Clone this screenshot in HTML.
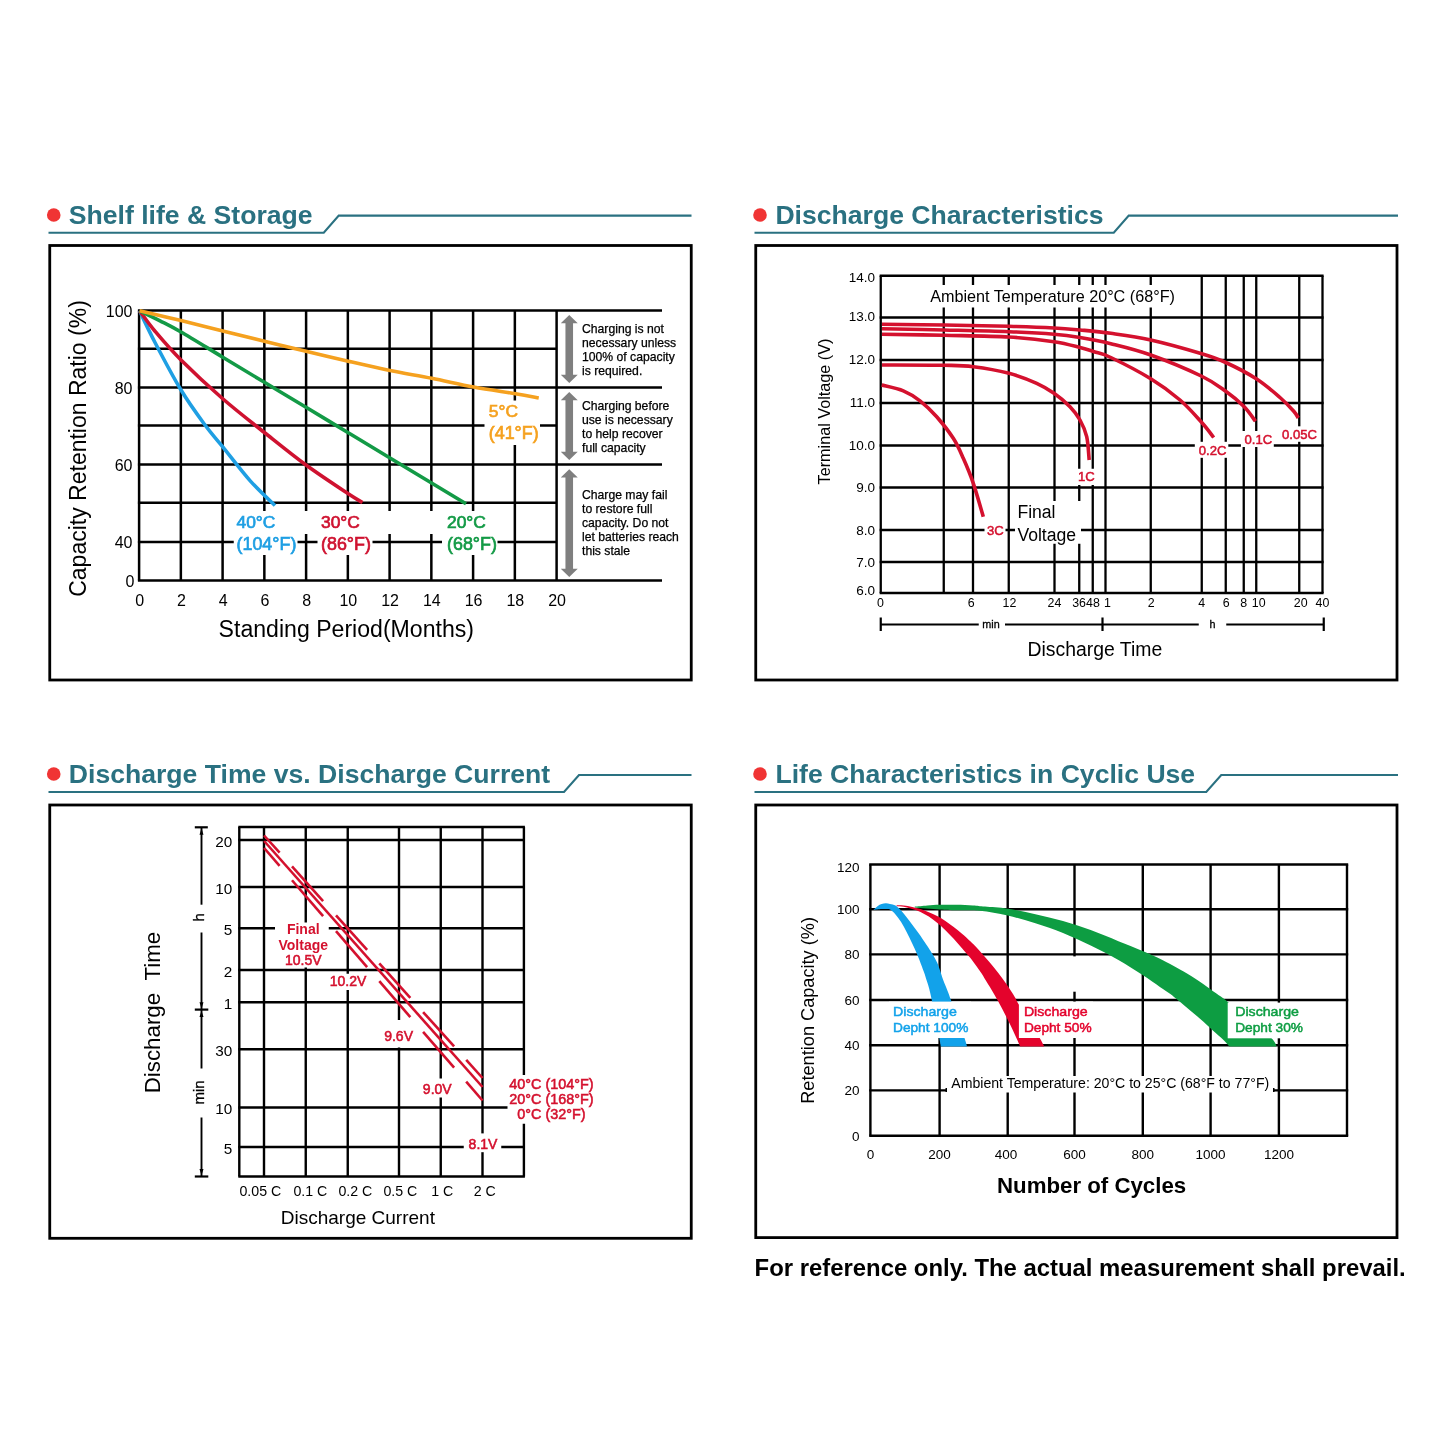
<!DOCTYPE html>
<html lang="en"><head><meta charset="utf-8"><title>Battery characteristics</title>
<style>html,body{margin:0;padding:0;background:#fff}svg{display:block}text{font-family:"Liberation Sans",sans-serif}</style>
</head><body>
<svg width="1445" height="1445" viewBox="0 0 1445 1445">
<rect width="1445" height="1445" fill="#fff"/>
<circle cx="53.75" cy="215" r="6.8" fill="#f03434"/>
<text x="68.80" y="223.75" font-size="26.6" text-anchor="start" font-weight="bold" fill="#2a7181" >Shelf life &amp; Storage</text>
<polyline points="48.5,232.8 323.75,232.8 338.75,215.6 691.5,215.6" fill="none" stroke="#2a7181" stroke-width="2.1"/>
<circle cx="760" cy="215" r="6.8" fill="#f03434"/>
<text x="775.40" y="223.75" font-size="26.6" text-anchor="start" font-weight="bold" fill="#2a7181" >Discharge Characteristics</text>
<polyline points="754.5,232.8 1113.75,232.8 1128.75,215.6 1398,215.6" fill="none" stroke="#2a7181" stroke-width="2.1"/>
<circle cx="53.75" cy="774" r="6.8" fill="#f03434"/>
<text x="68.80" y="782.75" font-size="26.6" text-anchor="start" font-weight="bold" fill="#2a7181" >Discharge Time vs. Discharge Current</text>
<polyline points="48.5,792 564,792 579,775 691.5,775" fill="none" stroke="#2a7181" stroke-width="2.1"/>
<circle cx="760" cy="774" r="6.8" fill="#f03434"/>
<text x="775.40" y="782.75" font-size="26.6" text-anchor="start" font-weight="bold" fill="#2a7181" >Life Characteristics in Cyclic Use</text>
<polyline points="754.5,792 1206.25,792 1221.25,775 1398,775" fill="none" stroke="#2a7181" stroke-width="2.1"/>
<rect x="49.75" y="245.5" width="641.5" height="434.5" fill="none" stroke="#000" stroke-width="2.8"/>
<rect x="755.75" y="245.5" width="641.25" height="434.5" fill="none" stroke="#000" stroke-width="2.8"/>
<rect x="49.75" y="805" width="641.5" height="433.29999999999995" fill="none" stroke="#000" stroke-width="2.8"/>
<rect x="755.75" y="805" width="641.25" height="432.5999999999999" fill="none" stroke="#000" stroke-width="2.8"/>
<g id="c1">
<line x1="137.90" y1="310.50" x2="662.00" y2="310.50" stroke="#000" stroke-width="2.5" />
<line x1="137.90" y1="348.70" x2="556.60" y2="348.70" stroke="#000" stroke-width="2.5" />
<line x1="137.90" y1="387.50" x2="662.00" y2="387.50" stroke="#000" stroke-width="2.5" />
<line x1="137.90" y1="425.60" x2="556.60" y2="425.60" stroke="#000" stroke-width="2.5" />
<line x1="137.90" y1="464.60" x2="662.00" y2="464.60" stroke="#000" stroke-width="2.5" />
<line x1="137.90" y1="502.80" x2="556.60" y2="502.80" stroke="#000" stroke-width="2.5" />
<line x1="137.90" y1="542.00" x2="556.60" y2="542.00" stroke="#000" stroke-width="2.5" />
<line x1="137.90" y1="580.50" x2="662.00" y2="580.50" stroke="#000" stroke-width="2.5" />
<line x1="139.10" y1="310.50" x2="139.10" y2="580.50" stroke="#000" stroke-width="2.5" />
<line x1="180.85" y1="310.50" x2="180.85" y2="580.50" stroke="#000" stroke-width="2.5" />
<line x1="222.60" y1="310.50" x2="222.60" y2="580.50" stroke="#000" stroke-width="2.5" />
<line x1="264.35" y1="310.50" x2="264.35" y2="580.50" stroke="#000" stroke-width="2.5" />
<line x1="306.10" y1="310.50" x2="306.10" y2="580.50" stroke="#000" stroke-width="2.5" />
<line x1="347.85" y1="310.50" x2="347.85" y2="580.50" stroke="#000" stroke-width="2.5" />
<line x1="389.60" y1="310.50" x2="389.60" y2="580.50" stroke="#000" stroke-width="2.5" />
<line x1="431.35" y1="310.50" x2="431.35" y2="580.50" stroke="#000" stroke-width="2.5" />
<line x1="473.10" y1="310.50" x2="473.10" y2="580.50" stroke="#000" stroke-width="2.5" />
<line x1="514.85" y1="310.50" x2="514.85" y2="580.50" stroke="#000" stroke-width="2.5" />
<line x1="556.60" y1="310.50" x2="556.60" y2="580.50" stroke="#000" stroke-width="2.5" />
<rect x="233.00" y="511.00" width="267.00" height="23.00" fill="#fff"/>
<rect x="233.75" y="533.00" width="63.75" height="22.00" fill="#fff"/>
<rect x="317.50" y="533.00" width="55.00" height="22.00" fill="#fff"/>
<rect x="442.00" y="533.00" width="55.50" height="22.00" fill="#fff"/>
<rect x="484.50" y="400.50" width="55.50" height="44.50" fill="#fff"/>
<path d="M139.60,310.80 C142.17,316.08 148.10,329.30 155.00,342.50 C161.90,355.70 172.67,376.25 181.00,390.00 C189.33,403.75 198.04,415.52 205.00,425.00 C211.96,434.48 215.25,437.63 222.75,446.90 C230.25,456.17 241.29,470.83 250.00,480.60 C258.71,490.37 270.83,501.35 275.00,505.50" stroke="#1f9fe3" stroke-width="3.6" fill="none" stroke-linecap="butt"/>
<path d="M139.60,310.80 C142.17,314.21 148.10,323.05 155.00,331.25 C161.90,339.45 169.71,348.75 181.00,360.00 C192.29,371.25 208.85,386.67 222.75,398.75 C236.65,410.83 250.52,421.46 264.40,432.50 C278.27,443.54 292.02,454.79 306.00,465.00 C319.98,475.21 338.83,487.50 348.25,493.75 C357.67,500.00 360.12,501.04 362.50,502.50" stroke="#cf1230" stroke-width="3.6" fill="none" stroke-linecap="butt"/>
<path d="M139.60,310.80 C143.00,312.47 153.10,317.27 160.00,320.80 C166.90,324.33 170.54,325.93 181.00,332.00 C191.46,338.07 208.85,348.82 222.75,357.20 C236.65,365.58 250.52,373.95 264.40,382.30 C278.27,390.65 292.02,398.88 306.00,407.30 C319.98,415.72 334.25,424.35 348.25,432.80 C362.25,441.25 370.38,446.18 390.00,458.00 C409.62,469.82 453.33,496.12 466.00,503.75" stroke="#139a46" stroke-width="3.6" fill="none" stroke-linecap="butt"/>
<path d="M139.60,310.80 C146.50,312.43 167.14,317.23 181.00,320.60 C194.86,323.97 208.85,327.56 222.75,331.00 C236.65,334.44 250.52,337.88 264.40,341.25 C278.27,344.62 292.02,347.92 306.00,351.25 C319.98,354.58 334.25,358.04 348.25,361.25 C362.25,364.46 376.08,367.67 390.00,370.50 C403.92,373.33 417.79,375.50 431.75,378.25 C445.71,381.00 459.79,384.42 473.75,387.00 C487.71,389.58 504.67,391.92 515.50,393.75 C526.33,395.58 534.88,397.29 538.75,398.00" stroke="#f5a11f" stroke-width="3.6" fill="none" stroke-linecap="butt"/>
<text x="236.50" y="527.50" font-size="17.4" text-anchor="start" fill="#1f9fe3" stroke="#1f9fe3" stroke-width="0.7">40°C</text>
<text x="236.50" y="549.50" font-size="17.9" text-anchor="start" fill="#1f9fe3" stroke="#1f9fe3" stroke-width="0.7">(104°F)</text>
<text x="321.00" y="527.50" font-size="17.4" text-anchor="start" fill="#cf1230" stroke="#cf1230" stroke-width="0.7">30°C</text>
<text x="321.00" y="549.50" font-size="17.9" text-anchor="start" fill="#cf1230" stroke="#cf1230" stroke-width="0.7">(86°F)</text>
<text x="447.00" y="527.50" font-size="17.4" text-anchor="start" fill="#139a46" stroke="#139a46" stroke-width="0.7">20°C</text>
<text x="447.00" y="549.50" font-size="17.9" text-anchor="start" fill="#139a46" stroke="#139a46" stroke-width="0.7">(68°F)</text>
<text x="488.75" y="417.00" font-size="17.4" text-anchor="start" fill="#f5a11f" stroke="#f5a11f" stroke-width="0.7">5°C</text>
<text x="488.75" y="438.75" font-size="17.9" text-anchor="start" fill="#f5a11f" stroke="#f5a11f" stroke-width="0.7">(41°F)</text>
<text x="132.50" y="316.80" font-size="16" text-anchor="end" fill="#000" >100</text>
<text x="132.50" y="393.80" font-size="16" text-anchor="end" fill="#000" >80</text>
<text x="132.50" y="470.90" font-size="16" text-anchor="end" fill="#000" >60</text>
<text x="132.50" y="548.30" font-size="16" text-anchor="end" fill="#000" >40</text>
<text x="134.50" y="586.80" font-size="16" text-anchor="end" fill="#000" >0</text>
<text x="139.60" y="606.00" font-size="16" text-anchor="middle" fill="#000" >0</text>
<text x="181.35" y="606.00" font-size="16" text-anchor="middle" fill="#000" >2</text>
<text x="223.10" y="606.00" font-size="16" text-anchor="middle" fill="#000" >4</text>
<text x="264.85" y="606.00" font-size="16" text-anchor="middle" fill="#000" >6</text>
<text x="306.60" y="606.00" font-size="16" text-anchor="middle" fill="#000" >8</text>
<text x="348.35" y="606.00" font-size="16" text-anchor="middle" fill="#000" >10</text>
<text x="390.10" y="606.00" font-size="16" text-anchor="middle" fill="#000" >12</text>
<text x="431.85" y="606.00" font-size="16" text-anchor="middle" fill="#000" >14</text>
<text x="473.60" y="606.00" font-size="16" text-anchor="middle" fill="#000" >16</text>
<text x="515.35" y="606.00" font-size="16" text-anchor="middle" fill="#000" >18</text>
<text x="557.10" y="606.00" font-size="16" text-anchor="middle" fill="#000" >20</text>
<text x="218.60" y="637.00" font-size="23.1" text-anchor="start" fill="#000" >Standing Period(Months)</text>
<text transform="translate(85.75,448.50) rotate(-90)" font-size="23" text-anchor="middle" fill="#000" >Capacity Retention Ratio (%)</text>
<polygon points="569.25,315.00 577.75,323.20 573.05,323.20 573.05,374.80 577.75,374.80 569.25,383.00 560.75,374.80 565.45,374.80 565.45,323.20 560.75,323.20" fill="#7f7f7f"/>
<polygon points="569.25,392.00 577.75,400.20 573.05,400.20 573.05,451.80 577.75,451.80 569.25,460.00 560.75,451.80 565.45,451.80 565.45,400.20 560.75,400.20" fill="#7f7f7f"/>
<polygon points="569.25,469.25 577.75,477.45 573.05,477.45 573.05,568.80 577.75,568.80 569.25,577.00 560.75,568.80 565.45,568.80 565.45,477.45 560.75,477.45" fill="#7f7f7f"/>
<text x="582.00" y="333.00" font-size="12.2" text-anchor="start" fill="#000" stroke="#000" stroke-width="0.25">Charging is not</text>
<text x="582.00" y="347.00" font-size="12.2" text-anchor="start" fill="#000" stroke="#000" stroke-width="0.25">necessary unless</text>
<text x="582.00" y="361.25" font-size="12.2" text-anchor="start" fill="#000" stroke="#000" stroke-width="0.25">100% of capacity</text>
<text x="582.00" y="375.00" font-size="12.2" text-anchor="start" fill="#000" stroke="#000" stroke-width="0.25">is required.</text>
<text x="582.00" y="409.50" font-size="12.2" text-anchor="start" fill="#000" stroke="#000" stroke-width="0.25">Charging before</text>
<text x="582.00" y="423.75" font-size="12.2" text-anchor="start" fill="#000" stroke="#000" stroke-width="0.25">use is necessary</text>
<text x="582.00" y="438.00" font-size="12.2" text-anchor="start" fill="#000" stroke="#000" stroke-width="0.25">to help recover</text>
<text x="582.00" y="452.00" font-size="12.2" text-anchor="start" fill="#000" stroke="#000" stroke-width="0.25">full capacity</text>
<text x="582.00" y="498.75" font-size="12.2" text-anchor="start" fill="#000" stroke="#000" stroke-width="0.25">Charge may fail</text>
<text x="582.00" y="513.00" font-size="12.2" text-anchor="start" fill="#000" stroke="#000" stroke-width="0.25">to restore full</text>
<text x="582.00" y="527.00" font-size="12.2" text-anchor="start" fill="#000" stroke="#000" stroke-width="0.25">capacity. Do not</text>
<text x="582.00" y="541.25" font-size="12.2" text-anchor="start" fill="#000" stroke="#000" stroke-width="0.25">let batteries reach</text>
<text x="582.00" y="555.00" font-size="12.2" text-anchor="start" fill="#000" stroke="#000" stroke-width="0.25">this stale</text>
</g>
<g id="c2">
<line x1="879.65" y1="275.75" x2="1323.60" y2="275.75" stroke="#000" stroke-width="2.3" />
<line x1="879.65" y1="317.50" x2="1323.60" y2="317.50" stroke="#000" stroke-width="2.3" />
<line x1="879.65" y1="360.00" x2="1323.60" y2="360.00" stroke="#000" stroke-width="2.3" />
<line x1="879.65" y1="403.00" x2="1323.60" y2="403.00" stroke="#000" stroke-width="2.3" />
<line x1="879.65" y1="445.50" x2="1323.60" y2="445.50" stroke="#000" stroke-width="2.3" />
<line x1="879.65" y1="487.50" x2="1323.60" y2="487.50" stroke="#000" stroke-width="2.3" />
<line x1="879.65" y1="530.00" x2="1323.60" y2="530.00" stroke="#000" stroke-width="2.3" />
<line x1="879.65" y1="562.00" x2="1323.60" y2="562.00" stroke="#000" stroke-width="2.3" />
<line x1="879.65" y1="593.00" x2="1323.60" y2="593.00" stroke="#000" stroke-width="2.3" />
<line x1="880.75" y1="275.75" x2="880.75" y2="593.00" stroke="#000" stroke-width="2.3" />
<line x1="943.75" y1="275.75" x2="943.75" y2="593.00" stroke="#000" stroke-width="2.3" />
<line x1="973.00" y1="275.75" x2="973.00" y2="593.00" stroke="#000" stroke-width="2.3" />
<line x1="1008.75" y1="275.75" x2="1008.75" y2="593.00" stroke="#000" stroke-width="2.3" />
<line x1="1054.50" y1="275.75" x2="1054.50" y2="593.00" stroke="#000" stroke-width="2.3" />
<line x1="1079.25" y1="275.75" x2="1079.25" y2="593.00" stroke="#000" stroke-width="2.3" />
<line x1="1092.75" y1="275.75" x2="1092.75" y2="593.00" stroke="#000" stroke-width="2.3" />
<line x1="1105.50" y1="275.75" x2="1105.50" y2="593.00" stroke="#000" stroke-width="2.3" />
<line x1="1150.75" y1="275.75" x2="1150.75" y2="593.00" stroke="#000" stroke-width="2.3" />
<line x1="1201.75" y1="275.75" x2="1201.75" y2="593.00" stroke="#000" stroke-width="2.3" />
<line x1="1225.75" y1="275.75" x2="1225.75" y2="593.00" stroke="#000" stroke-width="2.3" />
<line x1="1243.75" y1="275.75" x2="1243.75" y2="593.00" stroke="#000" stroke-width="2.3" />
<line x1="1256.25" y1="275.75" x2="1256.25" y2="593.00" stroke="#000" stroke-width="2.3" />
<line x1="1299.25" y1="275.75" x2="1299.25" y2="593.00" stroke="#000" stroke-width="2.3" />
<line x1="1322.50" y1="275.75" x2="1322.50" y2="593.00" stroke="#000" stroke-width="2.3" />
<rect x="926.00" y="285.00" width="255.00" height="22.50" fill="#fff"/>
<rect x="1194.80" y="441.80" width="33.50" height="16.00" fill="#fff"/>
<rect x="1240.90" y="431.00" width="32.90" height="16.00" fill="#fff"/>
<rect x="1280.00" y="426.30" width="38.00" height="15.50" fill="#fff"/>
<rect x="1074.00" y="468.75" width="23.00" height="16.25" fill="#fff"/>
<rect x="984.50" y="522.00" width="21.00" height="16.00" fill="#fff"/>
<rect x="1015.00" y="501.00" width="66.00" height="42.75" fill="#fff"/>
<path d="M882.00,324.20 C892.33,324.33 922.83,324.65 944.00,325.00 C965.17,325.35 990.67,325.80 1009.00,326.30 C1027.33,326.80 1042.17,327.38 1054.00,328.00 C1065.83,328.62 1070.53,329.12 1080.00,330.00 C1089.47,330.88 1099.01,331.63 1110.80,333.30 C1122.59,334.97 1135.59,336.59 1150.75,340.00 C1165.91,343.41 1189.25,350.00 1201.75,353.75 C1214.25,357.50 1216.67,358.33 1225.75,362.50 C1234.83,366.67 1247.21,372.92 1256.25,378.75 C1265.29,384.58 1273.75,392.08 1280.00,397.50 C1286.25,402.92 1290.71,407.83 1293.75,411.25 C1296.79,414.67 1297.50,416.88 1298.25,418.00" stroke="#d4112e" stroke-width="3.6" fill="none" stroke-linecap="butt"/>
<path d="M882.00,328.70 C892.33,328.92 922.83,329.50 944.00,330.00 C965.17,330.50 990.67,331.00 1009.00,331.70 C1027.33,332.40 1042.17,333.23 1054.00,334.20 C1065.83,335.17 1070.53,335.92 1080.00,337.50 C1089.47,339.08 1099.01,340.78 1110.80,343.70 C1122.59,346.62 1135.59,349.57 1150.75,355.00 C1165.91,360.43 1189.25,370.21 1201.75,376.25 C1214.25,382.29 1218.75,386.25 1225.75,391.25 C1232.75,396.25 1238.79,401.25 1243.75,406.25 C1248.71,411.25 1253.54,418.75 1255.50,421.25" stroke="#d4112e" stroke-width="3.6" fill="none" stroke-linecap="butt"/>
<path d="M882.00,334.20 C892.33,334.38 922.83,334.83 944.00,335.30 C965.17,335.77 990.67,335.93 1009.00,337.00 C1027.33,338.07 1042.17,339.95 1054.00,341.70 C1065.83,343.45 1073.33,345.83 1080.00,347.50 C1086.67,349.17 1088.87,350.03 1094.00,351.70 C1099.13,353.37 1101.34,352.99 1110.80,357.50 C1120.26,362.01 1139.22,371.67 1150.75,378.75 C1162.28,385.83 1171.50,392.71 1180.00,400.00 C1188.50,407.29 1196.12,416.25 1201.75,422.50 C1207.38,428.75 1211.75,435.00 1213.75,437.50" stroke="#d4112e" stroke-width="3.6" fill="none" stroke-linecap="butt"/>
<path d="M882.00,365.00 C892.33,365.05 928.78,365.02 944.00,365.30 C959.22,365.58 962.47,365.37 973.30,366.70 C984.13,368.03 998.43,370.53 1009.00,373.30 C1019.57,376.07 1029.20,379.97 1036.70,383.30 C1044.20,386.63 1048.45,389.40 1054.00,393.30 C1059.55,397.20 1065.67,402.25 1070.00,406.70 C1074.33,411.15 1077.22,415.00 1080.00,420.00 C1082.78,425.00 1085.17,430.03 1086.70,436.70 C1088.23,443.37 1088.78,456.12 1089.20,460.00" stroke="#d4112e" stroke-width="3.6" fill="none" stroke-linecap="butt"/>
<path d="M881.70,385.00 C885.30,385.97 896.92,388.17 903.30,390.80 C909.68,393.43 914.43,396.48 920.00,400.80 C925.57,405.12 931.15,410.45 936.70,416.70 C942.25,422.95 948.87,431.37 953.30,438.30 C957.73,445.23 959.97,450.80 963.30,458.30 C966.63,465.80 969.97,473.57 973.30,483.30 C976.63,493.03 981.63,511.13 983.30,516.70" stroke="#d4112e" stroke-width="3.6" fill="none" stroke-linecap="butt"/>
<text x="1282.00" y="439.25" font-size="13.1" text-anchor="start" fill="#d4112e" stroke="#d4112e" stroke-width="0.5">0.05C</text>
<text x="1244.50" y="443.75" font-size="13.1" text-anchor="start" fill="#d4112e" stroke="#d4112e" stroke-width="0.5">0.1C</text>
<text x="1198.75" y="454.50" font-size="13.1" text-anchor="start" fill="#d4112e" stroke="#d4112e" stroke-width="0.5">0.2C</text>
<text x="1078.00" y="481.25" font-size="13.1" text-anchor="start" fill="#d4112e" stroke="#d4112e" stroke-width="0.5">1C</text>
<text x="987.00" y="535.00" font-size="13.1" text-anchor="start" fill="#d4112e" stroke="#d4112e" stroke-width="0.5">3C</text>
<text x="1017.40" y="517.80" font-size="17.6" text-anchor="start" fill="#000" >Final</text>
<text x="1017.40" y="540.60" font-size="17.6" text-anchor="start" fill="#000" >Voltage</text>
<text x="930.20" y="302.40" font-size="16.2" text-anchor="start" fill="#000" >Ambient Temperature 20°C (68°F)</text>
<text x="875.00" y="281.65" font-size="13.5" text-anchor="end" fill="#000" >14.0</text>
<text x="875.00" y="320.90" font-size="13.5" text-anchor="end" fill="#000" >13.0</text>
<text x="875.00" y="363.70" font-size="13.5" text-anchor="end" fill="#000" >12.0</text>
<text x="875.00" y="407.40" font-size="13.5" text-anchor="end" fill="#000" >11.0</text>
<text x="875.00" y="449.90" font-size="13.5" text-anchor="end" fill="#000" >10.0</text>
<text x="875.00" y="492.40" font-size="13.5" text-anchor="end" fill="#000" >9.0</text>
<text x="875.00" y="534.90" font-size="13.5" text-anchor="end" fill="#000" >8.0</text>
<text x="875.00" y="566.90" font-size="13.5" text-anchor="end" fill="#000" >7.0</text>
<text x="875.00" y="594.50" font-size="13.5" text-anchor="end" fill="#000" >6.0</text>
<text transform="translate(829.50,411.50) rotate(-90)" font-size="16.2" text-anchor="middle" fill="#000" >Terminal Voltage (V)</text>
<text x="880.50" y="607.00" font-size="12.4" text-anchor="middle" fill="#000" >0</text>
<text x="971.25" y="607.00" font-size="12.4" text-anchor="middle" fill="#000" >6</text>
<text x="1009.50" y="607.00" font-size="12.4" text-anchor="middle" fill="#000" >12</text>
<text x="1054.50" y="607.00" font-size="12.4" text-anchor="middle" fill="#000" >24</text>
<text x="1086.00" y="607.00" font-size="12.4" text-anchor="middle" fill="#000" >3648</text>
<text x="1107.50" y="607.00" font-size="12.4" text-anchor="middle" fill="#000" >1</text>
<text x="1151.25" y="607.00" font-size="12.4" text-anchor="middle" fill="#000" >2</text>
<text x="1201.75" y="607.00" font-size="12.4" text-anchor="middle" fill="#000" >4</text>
<text x="1226.25" y="607.00" font-size="12.4" text-anchor="middle" fill="#000" >6</text>
<text x="1243.75" y="607.00" font-size="12.4" text-anchor="middle" fill="#000" >8</text>
<text x="1258.75" y="607.00" font-size="12.4" text-anchor="middle" fill="#000" >10</text>
<text x="1300.75" y="607.00" font-size="12.4" text-anchor="middle" fill="#000" >20</text>
<text x="1322.50" y="607.00" font-size="12.4" text-anchor="middle" fill="#000" >40</text>
<line x1="880.75" y1="624.50" x2="978.75" y2="624.50" stroke="#000" stroke-width="2" />
<line x1="1005.00" y1="624.50" x2="1198.75" y2="624.50" stroke="#000" stroke-width="2" />
<line x1="1226.25" y1="624.50" x2="1323.75" y2="624.50" stroke="#000" stroke-width="2" />
<line x1="880.75" y1="617.50" x2="880.75" y2="631.00" stroke="#000" stroke-width="2.2" />
<line x1="1102.50" y1="617.50" x2="1102.50" y2="631.00" stroke="#000" stroke-width="2.2" />
<line x1="1323.75" y1="617.50" x2="1323.75" y2="631.00" stroke="#000" stroke-width="2.2" />
<text x="991.00" y="628.20" font-size="10.8" text-anchor="middle" fill="#000" stroke="#000" stroke-width="0.3">min</text>
<text x="1212.50" y="628.20" font-size="10.8" text-anchor="middle" fill="#000" stroke="#000" stroke-width="0.3">h</text>
<text x="1027.50" y="655.50" font-size="19.4" text-anchor="start" fill="#000" >Discharge Time</text>
</g>
<g id="c3">
<line x1="238.30" y1="827.00" x2="524.90" y2="827.00" stroke="#000" stroke-width="2.4" />
<line x1="238.30" y1="840.00" x2="524.90" y2="840.00" stroke="#000" stroke-width="2.4" />
<line x1="238.30" y1="887.00" x2="524.90" y2="887.00" stroke="#000" stroke-width="2.4" />
<line x1="238.30" y1="928.25" x2="524.90" y2="928.25" stroke="#000" stroke-width="2.4" />
<line x1="238.30" y1="970.00" x2="524.90" y2="970.00" stroke="#000" stroke-width="2.4" />
<line x1="238.30" y1="1002.25" x2="524.90" y2="1002.25" stroke="#000" stroke-width="2.4" />
<line x1="238.30" y1="1049.25" x2="524.90" y2="1049.25" stroke="#000" stroke-width="2.4" />
<line x1="238.30" y1="1107.50" x2="524.90" y2="1107.50" stroke="#000" stroke-width="2.4" />
<line x1="238.30" y1="1147.00" x2="524.90" y2="1147.00" stroke="#000" stroke-width="2.4" />
<line x1="238.30" y1="1176.50" x2="524.90" y2="1176.50" stroke="#000" stroke-width="2.4" />
<line x1="239.30" y1="827.00" x2="239.30" y2="1176.50" stroke="#000" stroke-width="2.4" />
<line x1="264.00" y1="827.00" x2="264.00" y2="1176.50" stroke="#000" stroke-width="2.4" />
<line x1="305.75" y1="827.00" x2="305.75" y2="1176.50" stroke="#000" stroke-width="2.4" />
<line x1="347.75" y1="827.00" x2="347.75" y2="1176.50" stroke="#000" stroke-width="2.4" />
<line x1="399.00" y1="827.00" x2="399.00" y2="1176.50" stroke="#000" stroke-width="2.4" />
<line x1="440.75" y1="827.00" x2="440.75" y2="1176.50" stroke="#000" stroke-width="2.4" />
<line x1="482.50" y1="827.00" x2="482.50" y2="1176.50" stroke="#000" stroke-width="2.4" />
<line x1="523.90" y1="827.00" x2="523.90" y2="1176.50" stroke="#000" stroke-width="2.4" />
<rect x="275.00" y="922.50" width="53.75" height="45.00" fill="#fff"/>
<rect x="330.00" y="973.75" width="38.00" height="16.25" fill="#fff"/>
<rect x="383.00" y="1020.00" width="32.00" height="27.50" fill="#fff"/>
<rect x="422.00" y="1078.50" width="31.00" height="19.00" fill="#fff"/>
<rect x="463.75" y="1133.40" width="37.50" height="18.80" fill="#fff"/>
<rect x="507.50" y="1075.00" width="89.50" height="48.75" fill="#fff"/>
<line x1="264.10" y1="841.00" x2="482.50" y2="1087.00" stroke="#d4112e" stroke-width="2.6" />
<line x1="264.10" y1="835.50" x2="279.60" y2="852.71" stroke="#d4112e" stroke-width="2.6" />
<line x1="264.10" y1="848.00" x2="279.60" y2="865.92" stroke="#d4112e" stroke-width="2.6" />
<line x1="292.00" y1="866.48" x2="323.10" y2="901.01" stroke="#d4112e" stroke-width="2.6" />
<line x1="292.00" y1="880.26" x2="323.10" y2="916.21" stroke="#d4112e" stroke-width="2.6" />
<line x1="336.00" y1="915.33" x2="367.10" y2="949.87" stroke="#d4112e" stroke-width="2.6" />
<line x1="336.00" y1="931.13" x2="367.10" y2="967.08" stroke="#d4112e" stroke-width="2.6" />
<line x1="379.30" y1="963.41" x2="410.30" y2="997.83" stroke="#d4112e" stroke-width="2.6" />
<line x1="379.30" y1="981.19" x2="410.30" y2="1017.03" stroke="#d4112e" stroke-width="2.6" />
<line x1="423.10" y1="1012.05" x2="454.10" y2="1046.47" stroke="#d4112e" stroke-width="2.6" />
<line x1="423.10" y1="1031.83" x2="454.10" y2="1067.67" stroke="#d4112e" stroke-width="2.6" />
<line x1="466.20" y1="1059.90" x2="482.50" y2="1078.00" stroke="#d4112e" stroke-width="2.6" />
<line x1="466.20" y1="1081.65" x2="482.50" y2="1100.50" stroke="#d4112e" stroke-width="2.6" />
<text x="303.25" y="933.75" font-size="14" text-anchor="middle" font-weight="bold" fill="#d4112e" >Final</text>
<text x="303.25" y="950.00" font-size="14" text-anchor="middle" font-weight="bold" fill="#d4112e" >Voltage</text>
<text x="303.25" y="965.00" font-size="14" text-anchor="middle" fill="#d4112e" stroke="#d4112e" stroke-width="0.55">10.5V</text>
<text x="348.00" y="985.75" font-size="14" text-anchor="middle" fill="#d4112e" stroke="#d4112e" stroke-width="0.55">10.2V</text>
<text x="398.60" y="1041.25" font-size="14" text-anchor="middle" fill="#d4112e" stroke="#d4112e" stroke-width="0.55">9.6V</text>
<text x="437.25" y="1093.75" font-size="14" text-anchor="middle" fill="#d4112e" stroke="#d4112e" stroke-width="0.55">9.0V</text>
<text x="483.00" y="1148.75" font-size="14" text-anchor="middle" fill="#d4112e" stroke="#d4112e" stroke-width="0.55">8.1V</text>
<text x="551.50" y="1088.75" font-size="14.4" text-anchor="middle" fill="#d4112e" stroke="#d4112e" stroke-width="0.55">40°C (104°F)</text>
<text x="551.50" y="1103.75" font-size="14.4" text-anchor="middle" fill="#d4112e" stroke="#d4112e" stroke-width="0.55">20°C (168°F)</text>
<text x="551.50" y="1118.75" font-size="14.4" text-anchor="middle" fill="#d4112e" stroke="#d4112e" stroke-width="0.55">0°C (32°F)</text>
<text x="232.30" y="846.60" font-size="15.3" text-anchor="end" fill="#000" >20</text>
<text x="232.30" y="893.60" font-size="15.3" text-anchor="end" fill="#000" >10</text>
<text x="232.30" y="934.85" font-size="15.3" text-anchor="end" fill="#000" >5</text>
<text x="232.30" y="976.60" font-size="15.3" text-anchor="end" fill="#000" >2</text>
<text x="232.30" y="1008.85" font-size="15.3" text-anchor="end" fill="#000" >1</text>
<text x="232.30" y="1055.85" font-size="15.3" text-anchor="end" fill="#000" >30</text>
<text x="232.30" y="1114.10" font-size="15.3" text-anchor="end" fill="#000" >10</text>
<text x="232.30" y="1153.60" font-size="15.3" text-anchor="end" fill="#000" >5</text>
<text x="260.40" y="1196.25" font-size="14.2" text-anchor="middle" fill="#000" >0.05 C</text>
<text x="310.40" y="1196.25" font-size="14.2" text-anchor="middle" fill="#000" >0.1 C</text>
<text x="355.40" y="1196.25" font-size="14.2" text-anchor="middle" fill="#000" >0.2 C</text>
<text x="400.40" y="1196.25" font-size="14.2" text-anchor="middle" fill="#000" >0.5 C</text>
<text x="442.20" y="1196.25" font-size="14.2" text-anchor="middle" fill="#000" >1 C</text>
<text x="484.75" y="1196.25" font-size="14.2" text-anchor="middle" fill="#000" >2 C</text>
<text x="280.75" y="1223.75" font-size="19" text-anchor="start" fill="#000" >Discharge Current</text>
<text transform="translate(160.40,1012.50) rotate(-90)" font-size="22.3" text-anchor="middle" fill="#000" >Discharge&#160;&#160;Time</text>
<line x1="194.80" y1="827.30" x2="207.80" y2="827.30" stroke="#000" stroke-width="2.2" />
<line x1="194.80" y1="1009.60" x2="208.30" y2="1009.60" stroke="#000" stroke-width="2.2" />
<line x1="194.80" y1="1176.50" x2="208.30" y2="1176.50" stroke="#000" stroke-width="2.2" />
<line x1="201.50" y1="827.30" x2="201.50" y2="904.70" stroke="#000" stroke-width="1.9" />
<line x1="201.50" y1="932.50" x2="201.50" y2="1068.50" stroke="#000" stroke-width="1.9" />
<line x1="201.50" y1="1117.50" x2="201.50" y2="1176.50" stroke="#000" stroke-width="1.9" />
<polygon points="201.5,828.2 199.5,834.7 203.5,834.7" fill="#000"/>
<polygon points="201.5,1008.7 199.5,1002.2 203.5,1002.2" fill="#000"/>
<polygon points="201.5,1010.5 199.5,1017.0 203.5,1017.0" fill="#000"/>
<polygon points="201.5,1175.6 199.5,1169.1 203.5,1169.1" fill="#000"/>
<text transform="translate(203.70,917.30) rotate(-90)" font-size="15" text-anchor="middle" fill="#000" stroke="#000" stroke-width="0.3">h</text>
<text transform="translate(203.70,1092.50) rotate(-90)" font-size="15" text-anchor="middle" fill="#000" stroke="#000" stroke-width="0.3">min</text>
</g>
<g id="c4">
<line x1="869.20" y1="864.50" x2="1348.20" y2="864.50" stroke="#000" stroke-width="2.4" />
<line x1="869.20" y1="909.20" x2="1348.20" y2="909.20" stroke="#000" stroke-width="2.4" />
<line x1="869.20" y1="954.40" x2="1348.20" y2="954.40" stroke="#000" stroke-width="2.4" />
<line x1="869.20" y1="1000.00" x2="1348.20" y2="1000.00" stroke="#000" stroke-width="2.4" />
<line x1="869.20" y1="1045.20" x2="1348.20" y2="1045.20" stroke="#000" stroke-width="2.4" />
<line x1="869.20" y1="1090.40" x2="1348.20" y2="1090.40" stroke="#000" stroke-width="2.4" />
<line x1="869.20" y1="1135.75" x2="1348.20" y2="1135.75" stroke="#000" stroke-width="2.4" />
<line x1="870.40" y1="864.50" x2="870.40" y2="1135.75" stroke="#000" stroke-width="2.4" />
<line x1="939.60" y1="864.50" x2="939.60" y2="1135.75" stroke="#000" stroke-width="2.4" />
<line x1="1007.70" y1="864.50" x2="1007.70" y2="1135.75" stroke="#000" stroke-width="2.4" />
<line x1="1074.50" y1="864.50" x2="1074.50" y2="1135.75" stroke="#000" stroke-width="2.4" />
<line x1="1142.80" y1="864.50" x2="1142.80" y2="1135.75" stroke="#000" stroke-width="2.4" />
<line x1="1210.60" y1="864.50" x2="1210.60" y2="1135.75" stroke="#000" stroke-width="2.4" />
<line x1="1278.90" y1="864.50" x2="1278.90" y2="1135.75" stroke="#000" stroke-width="2.4" />
<line x1="1347.00" y1="864.50" x2="1347.00" y2="1135.75" stroke="#000" stroke-width="2.4" />
<path d="M914.80,906.60 C916.88,906.40 923.14,905.70 927.30,905.40 C931.46,905.10 934.90,904.90 939.75,904.80 C944.60,904.70 950.86,904.70 956.40,904.80 C961.94,904.90 968.23,905.10 973.00,905.40 C977.77,905.70 979.22,906.05 985.00,906.60 C990.78,907.15 999.30,907.43 1007.70,908.70 C1016.10,909.97 1026.18,912.13 1035.40,914.20 C1044.62,916.27 1053.78,918.45 1063.00,921.10 C1072.22,923.75 1081.47,926.75 1090.70,930.10 C1099.93,933.45 1109.75,937.73 1118.40,941.20 C1127.05,944.67 1135.68,947.97 1142.60,950.90 C1149.52,953.83 1152.57,955.08 1159.90,958.80 C1167.23,962.52 1179.38,969.00 1186.60,973.20 C1193.82,977.40 1198.35,980.68 1203.20,984.00 C1208.05,987.32 1211.68,990.20 1215.70,993.10 C1219.72,996.00 1221.58,996.92 1227.30,1001.40 C1233.02,1005.88 1242.67,1013.90 1250.00,1020.00 C1257.33,1026.10 1266.85,1033.60 1271.30,1038.00 C1275.75,1042.40 1275.80,1045.00 1276.70,1046.40 L1229.40,1046.40 C1228.50,1045.42 1226.28,1042.73 1224.00,1040.50 C1221.72,1038.27 1219.17,1036.18 1215.70,1033.00 C1212.23,1029.82 1207.35,1025.07 1203.20,1021.40 C1199.05,1017.73 1194.95,1014.47 1190.80,1011.00 C1186.65,1007.53 1181.77,1003.47 1178.30,1000.60 C1174.83,997.73 1173.07,996.08 1170.00,993.80 C1166.93,991.52 1164.47,990.02 1159.90,986.90 C1155.33,983.78 1149.52,979.60 1142.60,975.10 C1135.68,970.60 1127.05,964.85 1118.40,959.90 C1109.75,954.95 1099.93,949.90 1090.70,945.40 C1081.47,940.90 1072.22,936.60 1063.00,932.90 C1053.78,929.20 1044.62,926.08 1035.40,923.20 C1026.18,920.32 1016.93,917.67 1007.70,915.60 C998.47,913.53 988.55,911.68 980.00,910.80 C971.45,909.92 963.11,910.52 956.40,910.30 C949.69,910.08 946.68,909.97 939.75,909.50 C932.82,909.03 918.96,907.83 914.80,907.50 Z" fill="#0d9d42"/>
<path d="M896.60,905.30 C897.80,905.33 901.22,905.23 903.80,905.50 C906.38,905.77 909.32,906.30 912.10,906.90 C914.88,907.50 917.72,908.22 920.50,909.10 C923.28,909.98 926.03,911.03 928.80,912.20 C931.57,913.37 934.33,914.63 937.10,916.10 C939.87,917.57 942.63,919.17 945.40,921.00 C948.17,922.83 950.93,924.97 953.70,927.10 C956.47,929.23 959.28,931.48 962.00,933.80 C964.72,936.12 968.13,939.28 970.00,941.00 C971.87,942.72 971.28,942.12 973.20,944.10 C975.12,946.08 978.73,949.85 981.50,952.90 C984.27,955.95 987.03,959.08 989.80,962.40 C992.57,965.72 995.33,969.20 998.10,972.80 C1000.87,976.40 1003.62,979.98 1006.40,984.00 C1009.17,988.02 1012.73,993.58 1014.75,996.90 C1016.77,1000.22 1015.96,999.72 1018.50,1003.90 C1021.04,1008.08 1026.47,1016.32 1030.00,1022.00 C1033.53,1027.68 1037.33,1033.93 1039.70,1038.00 C1042.07,1042.07 1043.45,1045.00 1044.20,1046.40 L1020.10,1046.40 C1019.48,1045.00 1017.98,1041.48 1016.40,1038.00 C1014.82,1034.52 1012.95,1030.35 1010.60,1025.50 C1008.25,1020.65 1005.07,1014.15 1002.30,1008.90 C999.53,1003.65 996.77,998.77 994.00,994.00 C991.23,989.23 987.82,983.78 985.70,980.30 C983.58,976.82 982.68,975.25 981.30,973.10 C979.92,970.95 979.28,969.98 977.40,967.40 C975.52,964.82 972.57,960.80 970.00,957.60 C967.43,954.40 964.72,951.33 962.00,948.20 C959.28,945.07 956.47,941.80 953.70,938.80 C950.93,935.80 948.17,932.88 945.40,930.20 C942.63,927.52 939.87,924.97 937.10,922.70 C934.33,920.43 931.57,918.40 928.80,916.60 C926.03,914.80 923.28,913.18 920.50,911.90 C917.72,910.62 914.88,909.75 912.10,908.90 C909.32,908.05 906.38,907.23 903.80,906.80 C901.22,906.37 897.80,906.38 896.60,906.30 Z" fill="#e4032c"/>
<path d="M873.30,910.00 C874.00,909.37 876.12,907.18 877.50,906.20 C878.88,905.22 880.22,904.58 881.60,904.10 C882.98,903.62 884.40,903.33 885.80,903.30 C887.20,903.27 888.38,903.53 890.00,903.90 C891.62,904.27 893.65,904.40 895.50,905.50 C897.35,906.60 899.25,908.55 901.10,910.50 C902.95,912.45 904.77,914.88 906.60,917.20 C908.43,919.52 910.25,921.92 912.10,924.40 C913.95,926.88 915.85,929.52 917.70,932.10 C919.55,934.68 921.35,937.22 923.20,939.90 C925.05,942.58 927.23,945.80 928.80,948.20 C930.37,950.60 931.22,951.90 932.60,954.30 C933.98,956.70 935.90,960.02 937.10,962.60 C938.30,965.18 938.78,966.90 939.80,969.80 C940.82,972.70 941.82,976.27 943.20,980.00 C944.58,983.73 946.67,988.43 948.10,992.20 C949.53,995.97 950.15,997.97 951.80,1002.60 C953.45,1007.23 955.88,1014.10 958.00,1020.00 C960.12,1025.90 963.00,1033.60 964.50,1038.00 C966.00,1042.40 966.58,1045.00 967.00,1046.40 L940.80,1046.40 C940.55,1045.00 940.72,1045.30 939.30,1038.00 C937.88,1030.70 934.02,1010.93 932.30,1002.60 C930.58,994.27 929.97,991.77 929.00,988.00 C928.03,984.23 927.28,982.48 926.50,980.00 C925.72,977.52 925.22,975.73 924.30,973.10 C923.38,970.47 922.20,967.33 921.00,964.20 C919.80,961.07 918.58,957.80 917.10,954.30 C915.62,950.80 913.85,946.90 912.10,943.20 C910.35,939.50 908.43,935.62 906.60,932.10 C904.77,928.58 902.95,925.05 901.10,922.10 C899.25,919.15 897.35,916.48 895.50,914.40 C893.65,912.32 891.58,910.50 890.00,909.60 C888.42,908.70 887.40,909.08 886.00,909.00 C884.60,908.92 883.72,908.93 881.60,909.10 C879.48,909.27 874.68,909.85 873.30,910.00 Z" fill="#12a2ea"/>
<rect x="889.00" y="1001.60" width="82.00" height="36.40" fill="#fff"/>
<rect x="1018.90" y="1001.60" width="74.10" height="36.40" fill="#fff"/>
<rect x="1227.70" y="1002.60" width="77.30" height="35.70" fill="#fff"/>
<rect x="1071.00" y="956.40" width="7.00" height="35.30" fill="#fff"/>
<rect x="946.25" y="1076.00" width="327.50" height="16.50" fill="#fff"/>
<line x1="946.25" y1="1088.00" x2="946.25" y2="1092.00" stroke="#000" stroke-width="1.5" />
<line x1="1273.75" y1="1088.00" x2="1273.75" y2="1092.00" stroke="#000" stroke-width="1.5" />
<text x="893.00" y="1016.00" font-size="13.7" text-anchor="start" fill="#12a2ea" stroke="#12a2ea" stroke-width="0.5" textLength="63.8" lengthAdjust="spacingAndGlyphs">Discharge</text>
<text x="893.00" y="1032.20" font-size="13.7" text-anchor="start" fill="#12a2ea" stroke="#12a2ea" stroke-width="0.5">Depht 100%</text>
<text x="1023.90" y="1016.00" font-size="13.7" text-anchor="start" fill="#e4032c" stroke="#e4032c" stroke-width="0.5" textLength="63.8" lengthAdjust="spacingAndGlyphs">Discharge</text>
<text x="1023.90" y="1032.20" font-size="13.7" text-anchor="start" fill="#e4032c" stroke="#e4032c" stroke-width="0.5">Depht 50%</text>
<text x="1235.20" y="1016.00" font-size="13.7" text-anchor="start" fill="#0d9d42" stroke="#0d9d42" stroke-width="0.5" textLength="63.8" lengthAdjust="spacingAndGlyphs">Discharge</text>
<text x="1235.20" y="1032.20" font-size="13.7" text-anchor="start" fill="#0d9d42" stroke="#0d9d42" stroke-width="0.5">Depht 30%</text>
<text x="951.25" y="1087.50" font-size="14.12" text-anchor="start" fill="#000" >Ambient Temperature: 20°C to 25°C (68°F to 77°F)</text>
<text x="859.50" y="871.60" font-size="13.5" text-anchor="end" fill="#000" >120</text>
<text x="859.50" y="914.10" font-size="13.5" text-anchor="end" fill="#000" >100</text>
<text x="859.50" y="959.30" font-size="13.5" text-anchor="end" fill="#000" >80</text>
<text x="859.50" y="1004.90" font-size="13.5" text-anchor="end" fill="#000" >60</text>
<text x="859.50" y="1050.10" font-size="13.5" text-anchor="end" fill="#000" >40</text>
<text x="859.50" y="1095.30" font-size="13.5" text-anchor="end" fill="#000" >20</text>
<text x="859.50" y="1140.65" font-size="13.5" text-anchor="end" fill="#000" >0</text>
<text x="870.40" y="1158.75" font-size="13.5" text-anchor="middle" fill="#000" >0</text>
<text x="939.60" y="1158.75" font-size="13.5" text-anchor="middle" fill="#000" >200</text>
<text x="1006.00" y="1158.75" font-size="13.5" text-anchor="middle" fill="#000" >400</text>
<text x="1074.50" y="1158.75" font-size="13.5" text-anchor="middle" fill="#000" >600</text>
<text x="1142.80" y="1158.75" font-size="13.5" text-anchor="middle" fill="#000" >800</text>
<text x="1210.60" y="1158.75" font-size="13.5" text-anchor="middle" fill="#000" >1000</text>
<text x="1278.90" y="1158.75" font-size="13.5" text-anchor="middle" fill="#000" >1200</text>
<text x="997.00" y="1192.80" font-size="22.26" text-anchor="start" font-weight="bold" fill="#000" >Number of Cycles</text>
<text transform="translate(813.75,1010.40) rotate(-90)" font-size="18.16" text-anchor="middle" fill="#000" >Retention Capacity (%)</text>
</g>
<text x="754.60" y="1276.00" font-size="23.88" text-anchor="start" font-weight="bold" fill="#000" >For reference only. The actual measurement shall prevail.</text>
</svg></body></html>
